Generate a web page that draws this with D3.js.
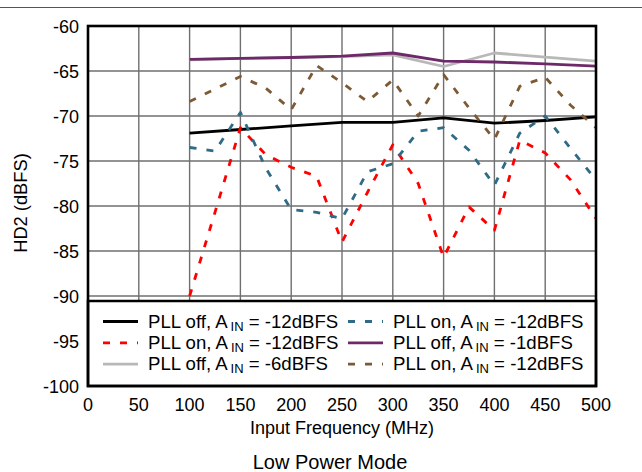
<!DOCTYPE html>
<html><head><meta charset="utf-8">
<script src="https://cdn.jsdelivr.net/npm/d3@7"></script>
<style>body{margin:0;background:#fff}svg{display:block}text{font-family:"Liberation Sans",Arial,sans-serif;fill:#000}</style>
</head><body>
<svg id="c" width="642" height="472"></svg>
<script>
const xTicks = [0,50,100,150,200,250,300,350,400,450,500];
const yTicks = [-60,-65,-70,-75,-80,-85,-90,-95,-100];
const freqSolid = [100,150,200,250,300,350,400,450,500];
const freqDash = [100,125,150,175,200,225,250,275,300,325,350,375,400,425,450,475,500];
const pllOffM12 = [-71.9,-71.5,-71.1,-70.7,-70.7,-70.2,-70.8,-70.5,-70.1];
const pllOffM6 = [-63.75,-63.6,-63.5,-63.4,-63.2,-64.5,-63.0,-63.45,-63.9];
const pllOffM1 = [-63.7,-63.6,-63.5,-63.35,-63.0,-63.9,-64.0,-64.2,-64.45];
const pllOnRed = [-90,-80.7,-71.3,-74.3,-75.7,-76.7,-84,-78.5,-73.2,-77.5,-85.7,-80.1,-82.7,-72.7,-74.1,-77.1,-81.4];
const pllOnBlue = [-73.5,-73.9,-69.6,-75.8,-80.4,-80.7,-81.4,-76.2,-75.3,-71.7,-71.3,-73.8,-77.7,-71.9,-70.0,-73.6,-77.1];
const pllOnBrown = [-68.4,-67.0,-65.6,-66.9,-69.3,-64.4,-66.3,-68.4,-66.0,-70.0,-65.4,-69.1,-72.6,-66.7,-65.7,-68.8,-71.3];
const legendLabels = [
  ["PLL off, A","IN"," = -12dBFS"],
  ["PLL on, A","IN"," = -12dBFS"],
  ["PLL off, A","IN"," = -6dBFS"],
  ["PLL on, A","IN"," = -12dBFS"],
  ["PLL off, A","IN"," = -1dBFS"],
  ["PLL on, A","IN"," = -12dBFS"]
];
const series = [
  {f:freqSolid, v:pllOffM12, color:"#000000", dash:null, lab:0},
  {f:freqDash, v:pllOnRed, color:"#ff0000", dash:"7,10", lab:1},
  {f:freqSolid, v:pllOffM6, color:"#b8b8b8", dash:null, lab:2},
  {f:freqDash, v:pllOnBlue, color:"#2f6a87", dash:"7,10", lab:3},
  {f:freqSolid, v:pllOffM1, color:"#6e2a68", dash:null, lab:4},
  {f:freqDash, v:pllOnBrown, color:"#7d5a35", dash:"7,10", lab:5}
];
const L=88,R=596,T=26,B=386;
const x = d3.scaleLinear().domain([0,500]).range([L,R]);
const y = d3.scaleLinear().domain([-100,-60]).range([B,T]);
const svg = d3.select("#c");
svg.append("line").attr("x1",0).attr("x2",642).attr("y1",7.5).attr("y2",7.5).attr("stroke","#555").attr("stroke-width",1);
svg.append("defs").append("clipPath").attr("id","clip").append("rect").attr("x",L).attr("y",T).attr("width",R-L).attr("height",B-T);
const g = svg.append("g");
g.selectAll(".vg").data(xTicks.slice(1,-1)).join("line").attr("x1",d=>x(d)).attr("x2",d=>x(d)).attr("y1",T).attr("y2",B).attr("stroke","#6f6f6f").attr("stroke-width",1.4);
g.selectAll(".hg").data(yTicks.slice(1,-1)).join("line").attr("x1",L).attr("x2",R).attr("y1",d=>y(d)).attr("y2",d=>y(d)).attr("stroke","#6f6f6f").attr("stroke-width",1.4);
const line = d3.line().x(d=>x(d[0])).y(d=>y(d[1]));
const pg = svg.append("g").attr("clip-path","url(#clip)");
series.forEach(s=>{
  pg.append("path").attr("d",line(s.f.map((f,i)=>[f,s.v[i]]))).attr("fill","none").attr("stroke",s.color).attr("stroke-width",2.8).attr("stroke-dasharray",s.dash).attr("stroke-linejoin","round");
});
// legend
const lg = svg.append("g");
lg.append("rect").attr("x",L).attr("y",301).attr("width",R-L).attr("height",B-301).attr("fill","#fff").attr("stroke","#000").attr("stroke-width",2.5);
series.forEach((s,i)=>{
  const col = i<3?0:1, row=i%3;
  const lx = col===0?103:348, tx = col===0?148:393;
  const ly = 321.5+row*21.3, by=328+row*21;
  lg.append("line").attr("x1",lx).attr("x2",lx+35).attr("y1",ly).attr("y2",ly).attr("stroke",s.color).attr("stroke-width",2.8).attr("stroke-dasharray",s.dash);
  const t = lg.append("text").attr("x",tx).attr("y",by).attr("font-size",18.6);
  const lab = legendLabels[s.lab];
  t.append("tspan").text(lab[0]);
  t.append("tspan").attr("dx",3).attr("dy",3).attr("font-size",13).text(lab[1]);
  t.append("tspan").attr("dy",-3).text(lab[2]);
});
// frame
svg.append("rect").attr("x",L).attr("y",T).attr("width",R-L).attr("height",B-T).attr("fill","none").attr("stroke","#000").attr("stroke-width",2.6);
// axes labels
svg.selectAll(".yt").data(yTicks).join("text").attr("x",79).attr("y",d=>y(d)+6.5).attr("text-anchor","end").attr("font-size",18).text(d=>d);
svg.selectAll(".xt").data(xTicks).join("text").attr("x",d=>x(d)).attr("y",410.5).attr("text-anchor","middle").attr("font-size",18).text(d=>d);
svg.append("text").attr("x",342).attr("y",434).attr("text-anchor","middle").attr("font-size",18).text("Input Frequency (MHz)");
svg.append("text").attr("transform","translate(27,203) rotate(-90)").attr("text-anchor","middle").attr("font-size",18.3).text("HD2 (dBFS)");
svg.append("text").attr("x",330).attr("y",469).attr("text-anchor","middle").attr("font-size",20).text("Low Power Mode");
</script>
</body></html>
